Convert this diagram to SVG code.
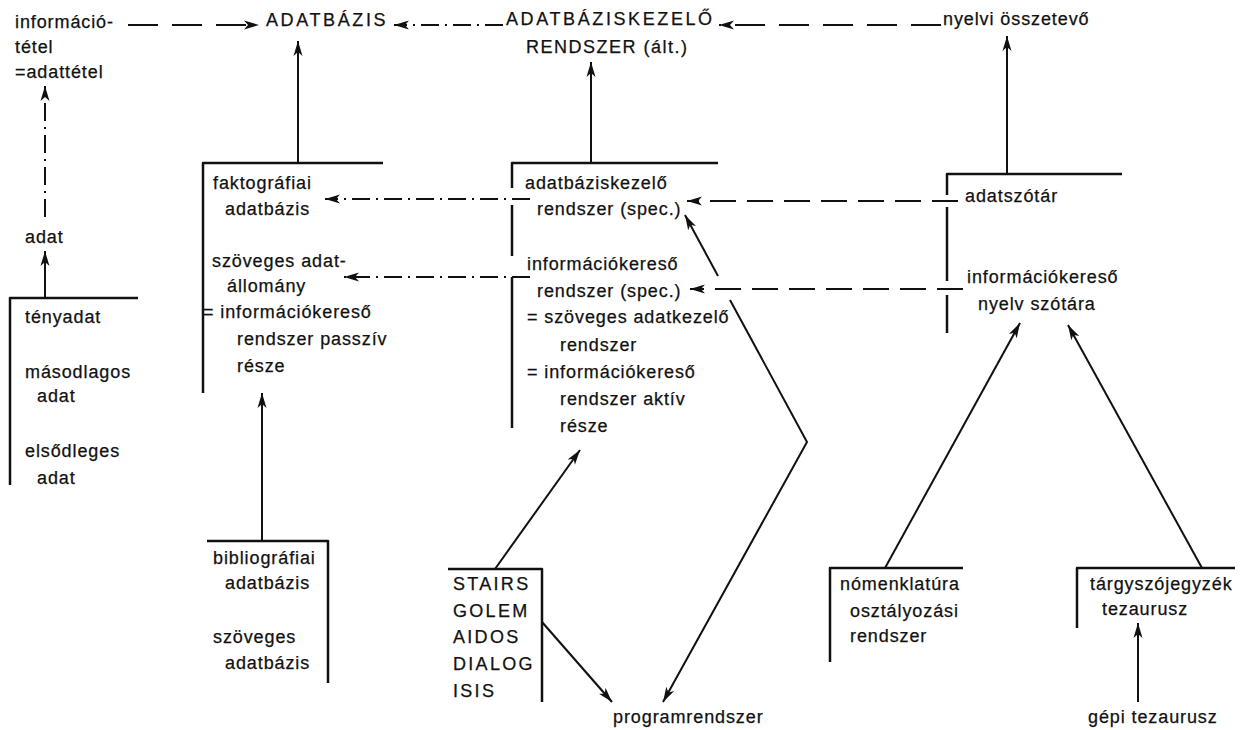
<svg xmlns="http://www.w3.org/2000/svg" width="1243" height="730" viewBox="0 0 1243 730">
<style>
  text { font-family: "Liberation Sans", Arial, sans-serif; font-size: 18px; fill: #111; stroke: #111; stroke-width: 0.25px; letter-spacing: 0.9px; }
  .caps { letter-spacing: 2.6px; }
  .caps2 { letter-spacing: 1.5px; }
  .prog { letter-spacing: 2.3px; }
  .box { fill: none; stroke: #111; stroke-width: 2.5; stroke-linejoin: round; }
  .solid { fill: none; stroke: #111; stroke-width: 2; }
  .dash { fill: none; stroke: #111; stroke-width: 2; stroke-dasharray: 26 11; }
  .dashlong { fill: none; stroke: #111; stroke-width: 2; stroke-dasharray: 30 14; }
  .dashdot { fill: none; stroke: #111; stroke-width: 2; stroke-dasharray: 18 6 2 6; }
</style>
<defs>
  <marker id="ah" viewBox="0 0 16 10" refX="15" refY="5" markerWidth="16" markerHeight="10" markerUnits="userSpaceOnUse" orient="auto">
    <path d="M0,0.5 L15,5 L0,9.5 L4,5 Z" fill="#111" stroke="none"/>
  </marker>
</defs>
<rect width="1243" height="730" fill="#fff"/>

<g id="connectors">
  <path id="c-info-adatbazis" class="dashlong" d="M128,25 H259" marker-end="url(#ah)"/>
  <path id="c-abkr-adatbazis" class="dashdot" d="M503,25 H394" marker-end="url(#ah)"/>
  <path id="c-nyelvi-abkr" class="dashlong" d="M941,25 H719" marker-end="url(#ah)"/>
  <path id="c-adat-adattetel" class="dashdot" d="M45,217 V86" marker-end="url(#ah)"/>
  <path id="c-tenyadat-adat" class="solid" d="M45,298 V251" marker-end="url(#ah)"/>
  <path id="c-fakto-adatbazis" class="solid" d="M298,163 V41" marker-end="url(#ah)"/>
  <path id="c-spec-alt" class="solid" d="M591,163 V62" marker-end="url(#ah)"/>
  <path id="c-szotar-nyelvi" class="solid" d="M1007,174 V36" marker-end="url(#ah)"/>
  <path id="c-spec-fakto" class="dashdot" d="M530,199 H325" marker-end="url(#ah)"/>
  <path id="c-infospec-szoveges" class="dashdot" d="M530,277 H344" marker-end="url(#ah)"/>
  <path id="c-szotar-spec" class="dash" d="M958,201 H687" marker-end="url(#ah)"/>
  <path id="c-nyelvszotara-infospec" class="dash" d="M963,289 H690" marker-end="url(#ah)"/>
  <path id="c-biblio-fakto" class="solid" d="M262,541 V393" marker-end="url(#ah)"/>
  <path id="c-stairs-infospec" class="solid" d="M495,569 L580,450" marker-end="url(#ah)"/>
  <path id="c-stairs-program" class="solid" d="M542,622 L612,702" marker-end="url(#ah)"/>
  <path id="c-prog-spec-a" class="solid" d="M718,276 L685,215" marker-end="url(#ah)"/>
  <path id="c-prog-spec-b" class="solid" d="M730,300 L807,442 L663,702" marker-end="url(#ah)"/>
  <path id="c-nomen-nyelv" class="solid" d="M885,568 L1020,323" marker-end="url(#ah)"/>
  <path id="c-targy-nyelv" class="solid" d="M1202,568 L1068,325" marker-end="url(#ah)"/>
  <path id="c-gepi-targy" class="solid" d="M1138,702 V623" marker-end="url(#ah)"/>
</g>

<g id="n-informaciotetel">
  <text x="15" y="28">információ-</text>
  <text x="15" y="53">tétel</text>
  <text x="15" y="78">=adattétel</text>
</g>
<g id="n-adatbazis">
  <text class="caps" x="266" y="26">ADATBÁZIS</text>
</g>
<g id="n-adatbaziskezelo-alt">
  <text class="caps" x="506" y="25">ADATBÁZISKEZELŐ</text>
  <text class="caps2" x="526" y="53">RENDSZER (ált.)</text>
</g>
<g id="n-nyelvi">
  <text x="943" y="25">nyelvi összetevő</text>
</g>
<g id="n-adat">
  <text x="25" y="243">adat</text>
</g>
<g id="n-tenyadat">
  <path class="box" d="M138,298 H10 V485"/>
  <text x="25" y="323">tényadat</text>
  <text x="25" y="378">másodlagos</text>
  <text x="37" y="402">adat</text>
  <text x="25" y="457">elsődleges</text>
  <text x="37" y="484">adat</text>
</g>
<g id="n-faktografiai">
  <path class="box" d="M383,163 H203 V393"/>
  <text x="213" y="189">faktográfiai</text>
  <text x="225" y="215">adatbázis</text>
  <text x="212" y="267">szöveges adat-</text>
  <text x="227" y="292">állomány</text>
  <text x="203" y="318">= információkereső</text>
  <text x="237" y="345">rendszer passzív</text>
  <text x="237" y="372">része</text>
</g>
<g id="n-adatbaziskezelo-spec">
  <path class="box" d="M718,163 H512 V188"/>
  <path class="box" d="M512,205 V256"/>
  <path class="box" d="M512,277 V428"/>
  <text x="525" y="189">adatbáziskezelő</text>
  <text x="537" y="215">rendszer (spec.)</text>
  <text x="527" y="270">információkereső</text>
  <text x="537" y="297">rendszer (spec.)</text>
  <text x="527" y="323">= szöveges adatkezelő</text>
  <text x="560" y="351">rendszer</text>
  <text x="527" y="378">= információkereső</text>
  <text x="560" y="405">rendszer aktív</text>
  <text x="560" y="432">része</text>
</g>
<g id="n-adatszotar">
  <path class="box" d="M1122,174 H947 V195"/>
  <path class="box" d="M947,207 V281"/>
  <path class="box" d="M947,295 V333"/>
  <text x="965" y="202">adatszótár</text>
  <text x="967" y="283">információkereső</text>
  <text x="978" y="310">nyelv szótára</text>
</g>
<g id="n-bibliografiai">
  <path class="box" d="M207,541 H328 V683"/>
  <text x="213" y="564">bibliográfiai</text>
  <text x="225" y="589">adatbázis</text>
  <text x="213" y="643">szöveges</text>
  <text x="225" y="669">adatbázis</text>
</g>
<g id="n-stairs">
  <path class="box" d="M448,569 H542 V702"/>
  <text class="prog" x="453" y="590">STAIRS</text>
  <text class="prog" x="453" y="617">GOLEM</text>
  <text class="prog" x="453" y="643">AIDOS</text>
  <text class="prog" x="453" y="670">DIALOG</text>
  <text class="prog" x="453" y="697">ISIS</text>
</g>
<g id="n-programrendszer">
  <text x="613" y="723">programrendszer</text>
</g>
<g id="n-nomenklatura">
  <path class="box" d="M963,568 H830 V662"/>
  <text x="840" y="590">nómenklatúra</text>
  <text x="850" y="617">osztályozási</text>
  <text x="850" y="642">rendszer</text>
</g>
<g id="n-targyszojegyzek">
  <path class="box" d="M1235,568 H1077 V628"/>
  <text x="1090" y="590">tárgyszójegyzék</text>
  <text x="1102" y="615">tezaurusz</text>
</g>
<g id="n-gepi">
  <text x="1088" y="723">gépi tezaurusz</text>
</g>
</svg>
